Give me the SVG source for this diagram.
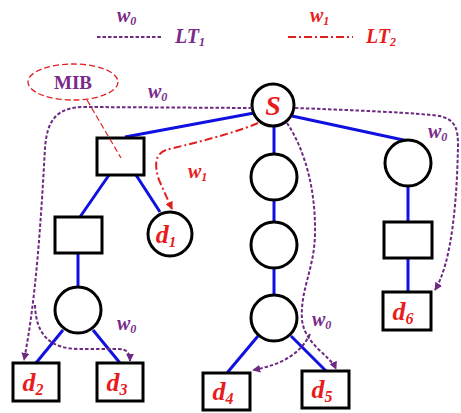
<svg xmlns="http://www.w3.org/2000/svg" width="461" height="413" viewBox="0 0 461 413">
<defs>
<style>
.edge{stroke:#1010e0;stroke-width:3;fill:none}
.node{fill:#fff;stroke:#000;stroke-width:3}
.lt1{stroke:#6e2a80;stroke-width:2;fill:none;stroke-dasharray:3.5,2}
.lt2{stroke:#e02020;stroke-width:2;fill:none;stroke-dasharray:8,3,2,3}
.lbl{font-family:"Liberation Serif",serif;font-style:italic;font-weight:bold;fill:#e81c1c}
.pw{font-family:"Liberation Serif",serif;font-style:italic;font-weight:bold;fill:#7a2a8a;font-size:20px}
.rw{font-family:"Liberation Serif",serif;font-style:italic;font-weight:bold;fill:#e81c1c;font-size:20px}
</style>
<marker id="ap" viewBox="0 0 10 10" refX="9" refY="5" markerWidth="8" markerHeight="8" orient="auto" markerUnits="userSpaceOnUse"><path d="M0,0 L10,5 L0,10 Z" fill="#6e2a80"/></marker>
<marker id="ar" viewBox="0 0 10 10" refX="9" refY="5" markerWidth="8" markerHeight="8" orient="auto" markerUnits="userSpaceOnUse"><path d="M0,0 L10,5 L0,10 Z" fill="#e02020"/></marker>
</defs>
<rect width="461" height="413" fill="#fff"/>

<g id="legend">
<text class="pw" x="117" y="22">w<tspan font-size="12" dy="3">0</tspan></text>
<line class="lt1" x1="97" y1="37" x2="163" y2="37"/>
<text class="pw" x="175" y="43">LT<tspan font-size="12" dy="3">1</tspan></text>
<text class="rw" x="310" y="22">w<tspan font-size="12" dy="3">1</tspan></text>
<line class="lt2" x1="288" y1="37" x2="353" y2="37"/>
<text class="rw" x="366" y="43">LT<tspan font-size="12" dy="3">2</tspan></text>
</g>

<g id="edges">
<line class="edge" x1="254" y1="113" x2="125" y2="137"/>
<line class="edge" x1="274" y1="127" x2="274" y2="154"/>
<line class="edge" x1="292" y1="116" x2="408" y2="141"/>
<line class="edge" x1="109" y1="175" x2="80" y2="217"/>
<line class="edge" x1="136" y1="175" x2="160" y2="212"/>
<line class="edge" x1="78" y1="253" x2="78" y2="287"/>
<line class="edge" x1="63" y1="330" x2="36" y2="363"/>
<line class="edge" x1="93" y1="330" x2="120" y2="363"/>
<line class="edge" x1="274" y1="200" x2="274" y2="222"/>
<line class="edge" x1="274" y1="268" x2="274" y2="295"/>
<line class="edge" x1="258" y1="336" x2="227" y2="373"/>
<line class="edge" x1="291" y1="336" x2="326" y2="371"/>
<line class="edge" x1="408" y1="187" x2="408" y2="222"/>
<line class="edge" x1="408" y1="258" x2="408" y2="292"/>
</g>

<g id="n-S"><circle class="node" cx="273" cy="105" r="21"/><text class="lbl" x="273" y="115" text-anchor="middle" font-size="28">S</text></g>
<g id="n-box1"><rect class="node" x="97" y="138" width="47" height="37"/></g>
<g id="n-box2"><rect class="node" x="55" y="217" width="47" height="36"/></g>
<g id="n-d1"><circle class="node" cx="170" cy="234" r="22"/><text class="lbl" x="166" y="243" text-anchor="middle" font-size="26">d<tspan font-size="15" dy="4">1</tspan></text></g>
<g id="n-c1"><circle class="node" cx="78" cy="310" r="23"/></g>
<g id="n-d2"><rect class="node" x="13" y="363" width="46" height="38"/><text class="lbl" x="33" y="391" text-anchor="middle" font-size="26">d<tspan font-size="16" dy="4">2</tspan></text></g>
<g id="n-d3"><rect class="node" x="97" y="363" width="46" height="38"/><text class="lbl" x="117" y="391" text-anchor="middle" font-size="26">d<tspan font-size="16" dy="4">3</tspan></text></g>
<g id="n-m1"><circle class="node" cx="274" cy="177" r="23"/></g>
<g id="n-m2"><circle class="node" cx="274" cy="245" r="23"/></g>
<g id="n-m3"><circle class="node" cx="274" cy="318" r="23"/></g>
<g id="n-d4"><rect class="node" x="203" y="373" width="47" height="37"/><text class="lbl" x="223" y="400" text-anchor="middle" font-size="26">d<tspan font-size="16" dy="4">4</tspan></text></g>
<g id="n-d5"><rect class="node" x="302" y="371" width="47" height="37"/><text class="lbl" x="322" y="398" text-anchor="middle" font-size="26">d<tspan font-size="16" dy="4">5</tspan></text></g>
<g id="n-r1"><circle class="node" cx="408" cy="163" r="23"/></g>
<g id="n-r2"><rect class="node" x="384" y="222" width="48" height="36"/></g>
<g id="n-d6"><rect class="node" x="383" y="292" width="48" height="38"/><text class="lbl" x="403" y="320" text-anchor="middle" font-size="26">d<tspan font-size="16" dy="4">6</tspan></text></g>

<g id="mib">
<ellipse cx="73" cy="82" rx="45" ry="18" fill="none" stroke="#e02020" stroke-width="1.3" stroke-dasharray="6,3"/>
<text x="73" y="89" text-anchor="middle" font-family="Liberation Serif,serif" font-weight="bold" font-size="19" fill="#7a2a8a">MIB</text>
<line x1="87" y1="100" x2="121" y2="158" stroke="#e02020" stroke-width="1.2" stroke-dasharray="6,3"/>
</g>

<g id="trees">
<path class="lt1" d="M252,108 L85,107 C55,107 47,122 45,148 C41,220 36,300 24,360" marker-end="url(#ap)"/>
<path class="lt1" d="M35,305 C36,335 50,349 80,349 L118,349 C127,349 130,353 130,361" marker-end="url(#ap)"/>
<text class="pw" x="148" y="98">w<tspan font-size="12" dy="3">0</tspan></text>
<text class="pw" x="117" y="330">w<tspan font-size="12" dy="3">0</tspan></text>
<path class="lt1" d="M295,108 C350,110 420,113 440,116 C455,120 458,128 458,145 C457,200 452,262 435,290" marker-end="url(#ap)"/>
<text class="pw" x="428" y="138">w<tspan font-size="12" dy="3">0</tspan></text>
<path class="lt1" d="M287,123 C305,150 316,190 315,235 C314,270 300,290 302,320 C305,345 330,355 336,369" marker-end="url(#ap)"/>
<path class="lt1" d="M310,334 C300,355 280,365 253,370" marker-end="url(#ap)"/>
<text class="pw" x="312" y="326">w<tspan font-size="12" dy="3">0</tspan></text>
<path class="lt2" d="M258,123 C230,135 185,145 166,150 C155,154 154,165 159,180 L172,209" marker-end="url(#ar)"/>
<text class="rw" x="188" y="178">w<tspan font-size="12" dy="3">1</tspan></text>
</g>
</svg>
